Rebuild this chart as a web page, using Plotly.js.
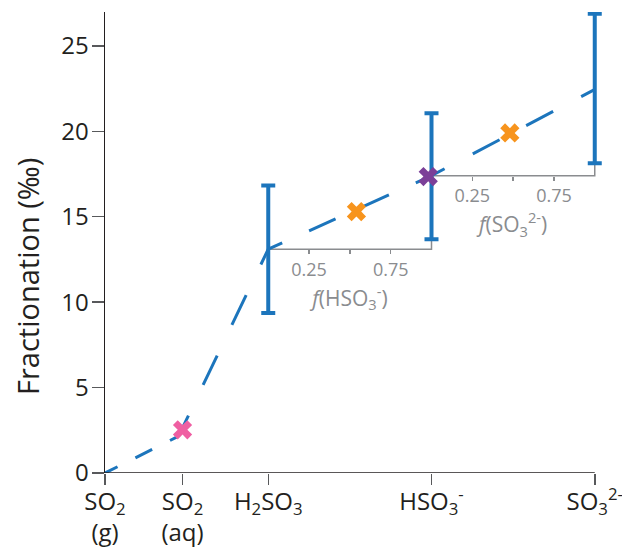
<!DOCTYPE html>
<html><head><meta charset="utf-8">
<script src="https://cdn.plot.ly/plotly-3.0.1.min.js"></script>
<style>html,body{margin:0;padding:0;background:#fff}</style>
</head><body><div id="chart" style="width:622px;height:554px"></div>
<script>
// ---- data ----
const speciesLabels = ["SO<sub>2</sub><br>(g)", "SO<sub>2</sub><br>(aq)", "H<sub>2</sub>SO<sub>3</sub>", "HSO<sub>3</sub><sup>-</sup>", "SO<sub>3</sub><sup>2-</sup>"];
const speciesPos = [0, 0.95, 2, 4, 6];
const lineX = [0, 0.9, 2, 4, 6];
const lineY = [0, 2.15, 13.1, 17.4, 22.45];
const errX = [2, 4, 6];
const errCenter = [13.1, 17.4, 22.45];
const errHigh = [16.82, 21.05, 26.88];
const errLow = [9.36, 13.68, 18.13];
const pinkX = [0.95], pinkY = [2.53];
const purpleX = [3.96], purpleY = [17.35];
const fHSO3 = [0.54], fHSO3Y = [15.3];
const fSO3 = [0.48], fSO3Y = [19.9];
const yTicks = [0, 5, 10, 15, 20, 25];
const insetTicks = [0.25, 0.5, 0.75];
const insetTickText = ["0.25", "", "0.75"];
const insetTitles = ["<i>f</i>(HSO<sub>3</sub><sup>-</sup>)", "<i>f</i>(SO<sub>3</sub><sup>2-</sup>)"];
const yTitle = "Fractionation (‰)";

// ---- styles ----
const xRange = [0, 6.15];   // small room right of the last species so the last error-bar caps are not clipped
const yRange = [0, 26.98];
const BLUE = "#1c75bc", GRAY = "#8a8c8f", DARK = "#231f20", TICK = "#58595b";
const FONT = "'Open Sans', 'Noto Sans', sans-serif";
const segDash = [
  [14, 20, 18.7, 20, 9, 300],
  [23, 34, 32.5, 34, 33, 34, 17, 300],
  [15.3, 29.5, 29, 29.5, 29, 29.5, 16.8, 300],
  [14.8, 31.9, 30.3, 30.1, 30.5, 31.7, 15, 300]
];
const W = 622, H = 554, M = {l: 105, r: 15, t: 12, b: 81};

const traces = [];
for (let i = 0; i < lineX.length - 1; i++) {
  traces.push({
    type: "scatter", mode: "lines",
    x: [lineX[i], lineX[i + 1]], y: [lineY[i], lineY[i + 1]],
    line: {color: BLUE, width: 3, dash: segDash[i].map(v => v + "px").join(",")},
    cliponaxis: false, hoverinfo: "skip", showlegend: false
  });
}
traces.push({
  type: "scatter", mode: "markers", x: errX, y: errCenter,
  marker: {opacity: 0, size: 1}, cliponaxis: false,
  error_y: {type: "data", symmetric: false,
    array: errHigh.map((v, i) => v - errCenter[i]),
    arrayminus: errCenter.map((v, i) => v - errLow[i]),
    color: BLUE, thickness: 4, width: 7},
  hoverinfo: "skip", showlegend: false
});
const mk = (x, y, color, xa) => ({
  type: "scatter", mode: "markers", x: x, y: y, xaxis: xa, yaxis: "y",
  marker: {symbol: "x", size: 17, color: color, line: {width: 0}},
  cliponaxis: false, hoverinfo: "skip", showlegend: false
});
traces.push(mk(pinkX, pinkY, "#ef5fa2", "x"));
traces.push(mk(purpleX, purpleY, "#7b3f98", "x"));
traces.push(mk(fHSO3, fHSO3Y, "#f7941d", "x2"));
traces.push(mk(fSO3, fSO3Y, "#f7941d", "x3"));

const xFrac = v => (v - xRange[0]) / (xRange[1] - xRange[0]);
const yFrac = v => (v - yRange[0]) / (yRange[1] - yRange[0]);
const yAt = xv => lineY[lineX.indexOf(xv)];

const insetAxis = (x0, x1, title) => ({
  domain: [xFrac(x0), xFrac(x1)], range: [0, 1], anchor: "free", position: yFrac(yAt(x0)),
  showline: false, showgrid: false, zeroline: false,
  ticks: "outside", ticklen: 4, tickwidth: 1.5, tickcolor: GRAY,
  tickvals: insetTicks, ticktext: insetTickText,
  tickfont: {family: FONT, size: 18, color: GRAY},
  title: {text: title, font: {family: FONT, size: 21, color: GRAY}, standoff: 3},
  fixedrange: true
});

const shapes = [];
// main x-axis line, from the first to the last species
shapes.push({type: "line", xref: "x", yref: "y", layer: "above",
  x0: speciesPos[0], x1: speciesPos[speciesPos.length - 1], y0: yRange[0], y1: yRange[0],
  line: {color: DARK, width: 1.5}});
// inset frames (bottom line + right edge up to the error bar)
for (let i = 0; i < errX.length - 1; i++) {
  const a = errX[i], b = errX[i + 1], base = yAt(a);
  shapes.push({type: "path", xref: "x", yref: "y", layer: "below",
    path: `M${a},${base} L${b},${base} L${b},${errLow[i + 1]}`,
    line: {color: GRAY, width: 1.5}});
}

// y-axis title as rotated annotation (placed like the reference, a bit below centre)
const plotW = W - M.l - M.r, plotH = H - M.t - M.b;
const annotations = [{
  text: yTitle, textangle: -90, showarrow: false,
  xref: "paper", yref: "paper",
  x: (27 - M.l) / plotW, y: (H - M.b - 277) / plotH,
  xanchor: "center", yanchor: "middle",
  font: {family: FONT, size: 29, color: DARK}
}];

const layout = {
  width: W, height: H, margin: M,
  paper_bgcolor: "#fff", plot_bgcolor: "rgba(0,0,0,0)",
  font: {family: FONT, color: DARK},
  showlegend: false,
  xaxis: {
    range: xRange, showline: false,
    showgrid: false, zeroline: false,
    ticks: "outside", ticklen: 11, tickwidth: 1.5, tickcolor: TICK,
    tickvals: speciesPos, ticktext: speciesLabels, ticklabelstandoff: -4,
    ticklabeloverflow: "allow",
    tickfont: {family: FONT, size: 24, color: DARK}, fixedrange: true
  },
  yaxis: {
    range: yRange, showline: true, linecolor: DARK, linewidth: 1.5,
    showgrid: false, zeroline: false,
    ticks: "outside", ticklen: 12, tickwidth: 1.5, tickcolor: TICK,
    tickvals: yTicks, ticklabelstandoff: -2,
    tickfont: {family: FONT, size: 24, color: DARK},
    fixedrange: true
  },
  xaxis2: insetAxis(errX[0], errX[1], insetTitles[0]),
  xaxis3: insetAxis(errX[1], errX[2], insetTitles[1]),
  shapes: shapes,
  annotations: annotations
};

Plotly.newPlot("chart", traces, layout, {staticPlot: true, displayModeBar: false});
</script>
</body></html>
